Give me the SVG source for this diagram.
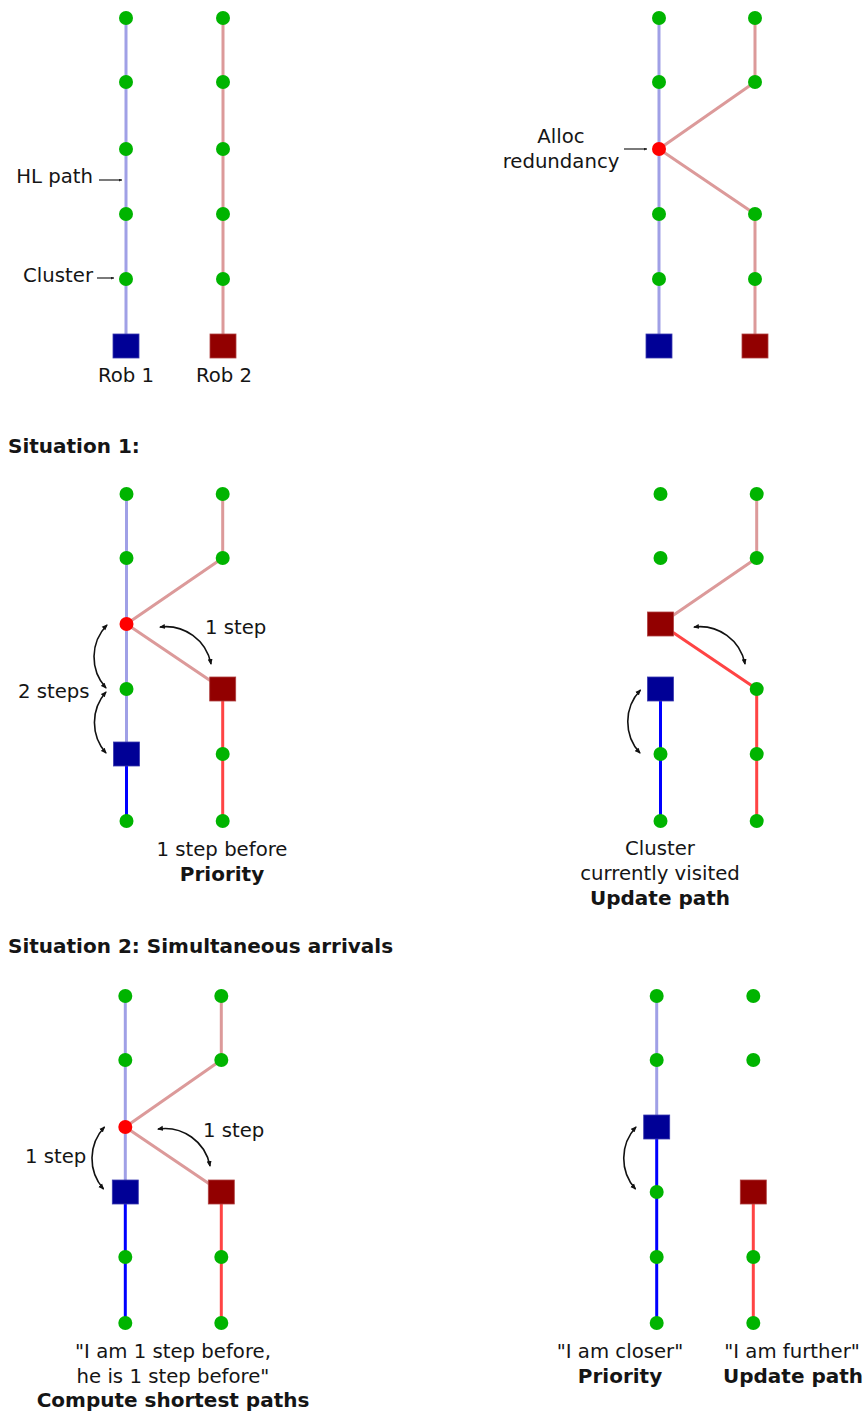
<svg xmlns="http://www.w3.org/2000/svg" width="864" height="1414" viewBox="0 0 864 1414">
<defs>
<style>
.g{fill:#00b400}
.rn{fill:#ff0000}
.sqb{fill:#000096;stroke:#3a3ab0;stroke-width:0.8}
.sqr{fill:#920000;stroke:#b04040;stroke-width:0.8}
.lb{stroke:#a0a0e6;stroke-width:3;fill:none;stroke-linejoin:round}
.lr{stroke:#dc9a9a;stroke-width:3;fill:none;stroke-linejoin:round}
.sb{stroke:#0000ff;stroke-width:3;fill:none}
.sr{stroke:#ff4444;stroke-width:3;fill:none;stroke-linejoin:round}
.arc{stroke:#111;stroke-width:1.6;fill:none;marker-start:url(#ah);marker-end:url(#ah)}
.ptr{stroke:#222;stroke-width:1.2;fill:none;marker-end:url(#ph)}
text{font-family:"DejaVu Sans","Liberation Sans",sans-serif;font-size:19.7px;fill:#151515}
.b{font-weight:bold;font-size:20px}
.m{text-anchor:middle}
.e{text-anchor:end}
</style>
<marker id="ah" viewBox="0 0 6 6" refX="5" refY="3" markerWidth="6" markerHeight="6" markerUnits="userSpaceOnUse" orient="auto-start-reverse">
<path d="M0,0.5 L6,3 L0,5.5 z" fill="#111"/>
</marker>
<marker id="ph" viewBox="0 0 4 4" refX="4" refY="2" markerWidth="3" markerHeight="3" markerUnits="userSpaceOnUse" orient="auto">
<path d="M0,0 L4,2 L0,4 z" fill="#222"/>
</marker>
</defs>

<g id="connectors">
<!-- Panel A -->
<line class="lb" x1="126" y1="18" x2="126" y2="346"/>
<line class="lr" x1="223" y1="18" x2="223" y2="346"/>
<!-- Panel B -->
<line class="lb" x1="659" y1="18" x2="659" y2="346"/>
<polyline class="lr" points="755,18 755,82 659,149 755,214 755,346"/>
<!-- Panel C -->
<line class="lb" x1="126.5" y1="494" x2="126.5" y2="754"/>
<line class="sb" x1="126.5" y1="754" x2="126.5" y2="821"/>
<polyline class="lr" points="222.7,494 222.7,558 126.5,624 222.7,689"/>
<line class="sr" x1="222.7" y1="689" x2="222.7" y2="821"/>
<!-- Panel D -->
<polyline class="lr" points="756.7,494 756.7,558 660.5,624"/>
<polyline class="sr" points="660.5,624 756.7,689 756.7,821"/>
<line class="sb" x1="660.5" y1="689" x2="660.5" y2="821"/>
<!-- Panel E -->
<line class="lb" x1="125.3" y1="996" x2="125.3" y2="1192"/>
<line class="sb" x1="125.3" y1="1192" x2="125.3" y2="1323"/>
<polyline class="lr" points="221.3,996 221.3,1060 125.3,1127 221.3,1192"/>
<line class="sr" x1="221.3" y1="1192" x2="221.3" y2="1323"/>
<!-- Panel F -->
<line class="lb" x1="656.7" y1="996" x2="656.7" y2="1127"/>
<line class="sb" x1="656.7" y1="1127" x2="656.7" y2="1323"/>
<line class="sr" x1="753.3" y1="1192" x2="753.3" y2="1323"/>

<!-- step arcs -->
<path class="arc" d="M107,625 A46 46 0 0 0 106,688"/>
<path class="arc" d="M106,692 A46 46 0 0 0 106,753"/>
<path class="arc" d="M160,627 A46 46 0 0 1 211,664"/>
<path class="arc" d="M694,627 A46 46 0 0 1 745,664"/>
<path class="arc" d="M640.5,690 A46 46 0 0 0 640,753"/>
<path class="arc" d="M104.5,1127 A46 46 0 0 0 103.5,1189"/>
<path class="arc" d="M158,1129 A46 46 0 0 1 210,1166"/>
<path class="arc" d="M636,1127 A46 46 0 0 0 635.5,1189"/>

<!-- label pointers -->
<line class="ptr" x1="99" y1="180" x2="122" y2="180"/>
<line class="ptr" x1="97" y1="278" x2="114" y2="278"/>
<line class="ptr" x1="624" y1="149" x2="647" y2="149"/>
</g>

<g id="panelA">
<circle id="A_b1" class="g" cx="126" cy="18" r="7"/>
<circle id="A_b2" class="g" cx="126" cy="82" r="7"/>
<circle id="A_b3" class="g" cx="126" cy="149" r="7"/>
<circle id="A_b4" class="g" cx="126" cy="214" r="7"/>
<circle id="A_b5" class="g" cx="126" cy="279" r="7"/>
<rect id="A_rob1" class="sqb" x="113" y="334" width="26" height="24"/>
<circle id="A_r1" class="g" cx="223" cy="18" r="7"/>
<circle id="A_r2" class="g" cx="223" cy="82" r="7"/>
<circle id="A_r3" class="g" cx="223" cy="149" r="7"/>
<circle id="A_r4" class="g" cx="223" cy="214" r="7"/>
<circle id="A_r5" class="g" cx="223" cy="279" r="7"/>
<rect id="A_rob2" class="sqr" x="210" y="334" width="26" height="24"/>
<text class="e" x="93" y="183">HL path</text>
<text class="e" x="93" y="282">Cluster</text>
<text class="m" x="126" y="382">Rob 1</text>
<text class="m" x="224" y="382">Rob 2</text>
</g>

<g id="panelB">
<circle id="B_b1" class="g" cx="659" cy="18" r="7"/>
<circle id="B_b2" class="g" cx="659" cy="82" r="7"/>
<circle id="B_alloc" class="rn" cx="659" cy="149" r="7"/>
<circle id="B_b4" class="g" cx="659" cy="214" r="7"/>
<circle id="B_b5" class="g" cx="659" cy="279" r="7"/>
<rect id="B_rob1" class="sqb" x="646" y="334" width="26" height="24"/>
<circle id="B_r1" class="g" cx="755" cy="18" r="7"/>
<circle id="B_r2" class="g" cx="755" cy="82" r="7"/>
<circle id="B_r4" class="g" cx="755" cy="214" r="7"/>
<circle id="B_r5" class="g" cx="755" cy="279" r="7"/>
<rect id="B_rob2" class="sqr" x="742" y="334" width="26" height="24"/>
<text class="m" x="561" y="143">Alloc</text>
<text class="m" x="561" y="168">redundancy</text>
</g>

<text id="sit1" class="b" x="8" y="453">Situation 1:</text>

<g id="panelC">
<circle id="C_b1" class="g" cx="126.5" cy="494" r="7"/>
<circle id="C_b2" class="g" cx="126.5" cy="558" r="7"/>
<circle id="C_alloc" class="rn" cx="126.5" cy="624" r="7"/>
<circle id="C_b4" class="g" cx="126.5" cy="689" r="7"/>
<rect id="C_rob1" class="sqb" x="113.5" y="742" width="26" height="24"/>
<circle id="C_b6" class="g" cx="126.5" cy="821" r="7"/>
<circle id="C_r1" class="g" cx="222.7" cy="494" r="7"/>
<circle id="C_r2" class="g" cx="222.7" cy="558" r="7"/>
<rect id="C_rob2" class="sqr" x="209.7" y="677" width="26" height="24"/>
<circle id="C_r5" class="g" cx="222.7" cy="754" r="7"/>
<circle id="C_r6" class="g" cx="222.7" cy="821" r="7"/>
<text x="205" y="634">1 step</text>
<text x="18" y="698">2 steps</text>
<text class="m" x="222" y="856">1 step before</text>
<text class="m b" x="222" y="881">Priority</text>
</g>

<g id="panelD">
<circle id="D_b1" class="g" cx="660.5" cy="494" r="7"/>
<circle id="D_b2" class="g" cx="660.5" cy="558" r="7"/>
<rect id="D_rob2" class="sqr" x="647.5" y="612" width="26" height="24"/>
<rect id="D_rob1" class="sqb" x="647.5" y="677" width="26" height="24"/>
<circle id="D_b5" class="g" cx="660.5" cy="754" r="7"/>
<circle id="D_b6" class="g" cx="660.5" cy="821" r="7"/>
<circle id="D_r1" class="g" cx="756.7" cy="494" r="7"/>
<circle id="D_r2" class="g" cx="756.7" cy="558" r="7"/>
<circle id="D_r4" class="g" cx="756.7" cy="689" r="7"/>
<circle id="D_r5" class="g" cx="756.7" cy="754" r="7"/>
<circle id="D_r6" class="g" cx="756.7" cy="821" r="7"/>
<text class="m" x="660" y="855">Cluster</text>
<text class="m" x="660" y="880">currently visited</text>
<text class="m b" x="660" y="905">Update path</text>
</g>

<text id="sit2" class="b" x="8" y="953">Situation 2: Simultaneous arrivals</text>

<g id="panelE">
<circle id="E_b1" class="g" cx="125.3" cy="996" r="7"/>
<circle id="E_b2" class="g" cx="125.3" cy="1060" r="7"/>
<circle id="E_alloc" class="rn" cx="125.3" cy="1127" r="7"/>
<rect id="E_rob1" class="sqb" x="112.3" y="1180" width="26" height="24"/>
<circle id="E_b5" class="g" cx="125.3" cy="1257" r="7"/>
<circle id="E_b6" class="g" cx="125.3" cy="1323" r="7"/>
<circle id="E_r1" class="g" cx="221.3" cy="996" r="7"/>
<circle id="E_r2" class="g" cx="221.3" cy="1060" r="7"/>
<rect id="E_rob2" class="sqr" x="208.3" y="1180" width="26" height="24"/>
<circle id="E_r5" class="g" cx="221.3" cy="1257" r="7"/>
<circle id="E_r6" class="g" cx="221.3" cy="1323" r="7"/>
<text x="203" y="1137">1 step</text>
<text x="25" y="1163">1 step</text>
<text class="m" x="173" y="1358">"I am 1 step before,</text>
<text class="m" x="173" y="1383">he is 1 step before"</text>
<text class="m b" x="173" y="1407">Compute shortest paths</text>
</g>

<g id="panelF">
<circle id="F_b1" class="g" cx="656.7" cy="996" r="7"/>
<circle id="F_b2" class="g" cx="656.7" cy="1060" r="7"/>
<rect id="F_rob1" class="sqb" x="643.7" y="1115" width="26" height="24"/>
<circle id="F_b4" class="g" cx="656.7" cy="1192" r="7"/>
<circle id="F_b5" class="g" cx="656.7" cy="1257" r="7"/>
<circle id="F_b6" class="g" cx="656.7" cy="1323" r="7"/>
<circle id="F_r1" class="g" cx="753.3" cy="996" r="7"/>
<circle id="F_r2" class="g" cx="753.3" cy="1060" r="7"/>
<rect id="F_rob2" class="sqr" x="740.3" y="1180" width="26" height="24"/>
<circle id="F_r5" class="g" cx="753.3" cy="1257" r="7"/>
<circle id="F_r6" class="g" cx="753.3" cy="1323" r="7"/>
<text class="m" x="620" y="1358">"I am closer"</text>
<text class="m b" x="620" y="1383">Priority</text>
<text class="m" x="792" y="1358">"I am further"</text>
<text class="m b" x="793" y="1383">Update path</text>
</g>
</svg>
